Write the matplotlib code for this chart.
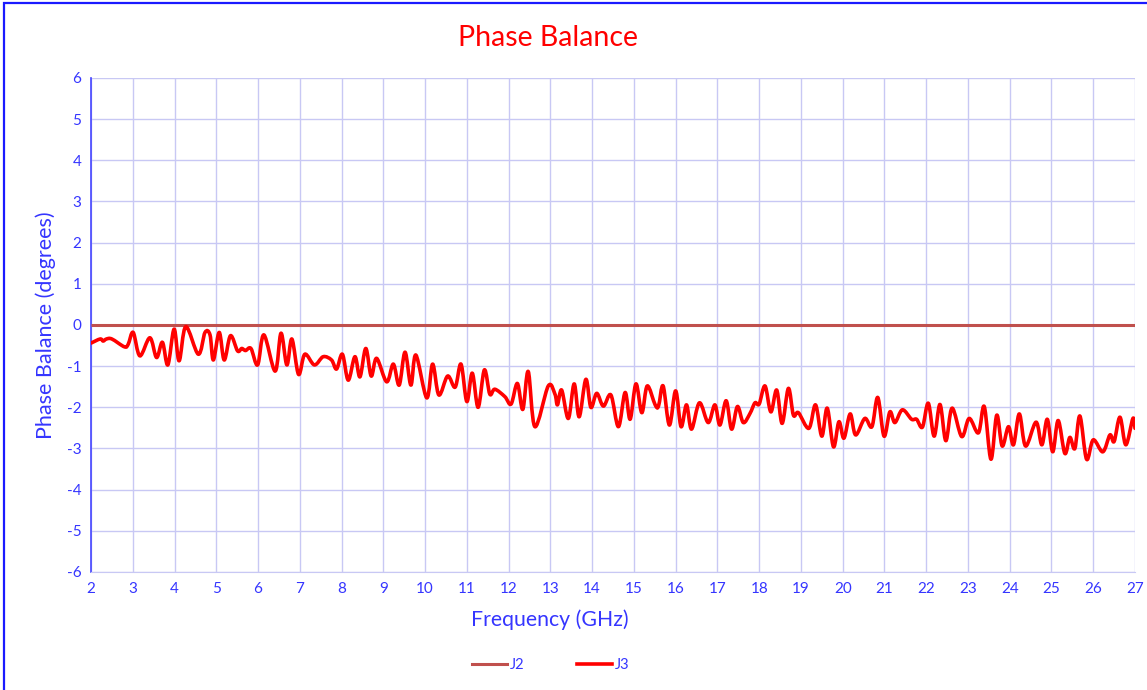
import numpy as np
import matplotlib
matplotlib.use("Agg")
import matplotlib.pyplot as plt
from matplotlib.path import Path
from matplotlib.patches import PathPatch, Rectangle
from matplotlib.lines import Line2D

plt.rcParams['font.family'] = ['Lato', 'DejaVu Sans']
plt.rcParams['axes.unicode_minus'] = False

# J3 phase balance (GHz, degrees)
freq = [2.00, 2.22, 2.29, 2.37, 2.50, 2.80, 2.89, 3.01, 3.17, 3.41, 3.57, 3.71, 3.84, 3.99,
        4.11, 4.27, 4.57, 4.73, 4.85, 4.93, 5.07, 5.19, 5.34, 5.51, 5.61, 5.70, 5.83, 5.99,
        6.14, 6.41, 6.55, 6.69, 6.81, 6.97, 7.12, 7.35, 7.56, 7.76, 7.88, 8.02, 8.16, 8.32,
        8.44, 8.58, 8.71, 8.84, 9.08, 9.24, 9.38, 9.52, 9.66, 9.78, 10.04, 10.18, 10.33,
        10.54, 10.72, 10.86, 11.00, 11.13, 11.27, 11.42, 11.55, 11.67, 11.91, 12.06, 12.21,
        12.34, 12.47, 12.63, 12.95, 13.11, 13.17, 13.27, 13.43, 13.57, 13.69, 13.85, 13.97,
        14.11, 14.27, 14.45, 14.63, 14.79, 14.91, 15.05, 15.19, 15.32, 15.51, 15.59, 15.70,
        15.85, 16.00, 16.13, 16.26, 16.38, 16.57, 16.78, 16.94, 17.06, 17.21, 17.34, 17.48,
        17.62, 17.78, 17.90, 18.00, 18.14, 18.28, 18.42, 18.55, 18.70, 18.82, 18.94, 19.19,
        19.35, 19.50, 19.63, 19.78, 19.91, 20.03, 20.18, 20.31, 20.53, 20.70, 20.84, 20.99,
        21.13, 21.25, 21.43, 21.65, 21.77, 21.91, 22.05, 22.19, 22.33, 22.47, 22.62, 22.85,
        23.03, 23.25, 23.39, 23.55, 23.69, 23.82, 23.97, 24.09, 24.23, 24.38, 24.63, 24.77,
        24.90, 25.03, 25.16, 25.32, 25.44, 25.56, 25.68, 25.84, 26.00, 26.23, 26.40, 26.50,
        26.64, 26.78, 26.95, 27.00]
j3 = [-0.44, -0.34, -0.39, -0.34, -0.34, -0.53, -0.47, -0.18, -0.75, -0.31, -0.79, -0.42, -0.97, -0.10,
      -0.87, -0.04, -0.71, -0.18, -0.24, -0.85, -0.18, -0.85, -0.26, -0.63, -0.57, -0.62, -0.57, -0.97,
      -0.24, -1.12, -0.20, -0.97, -0.34, -1.20, -0.71, -0.97, -0.77, -0.85, -1.07, -0.71, -1.34, -0.77,
      -1.26, -0.57, -1.24, -0.81, -1.38, -0.95, -1.46, -0.66, -1.46, -0.73, -1.77, -0.95, -1.70,
      -1.24, -1.51, -0.95, -1.86, -1.17, -2.00, -1.09, -1.68, -1.56, -1.74, -1.92, -1.42,
      -2.05, -1.13, -2.47, -1.48, -1.68, -1.94, -1.58, -2.27, -1.43, -2.23, -1.32, -2.00,
      -1.66, -1.97, -1.70, -2.47, -1.64, -2.29, -1.43, -2.13, -1.48, -1.94, -1.97, -1.48,
      -2.43, -1.60, -2.47, -1.94, -2.53, -1.89, -2.37, -1.94, -2.43, -1.84, -2.53, -1.98,
      -2.37, -2.15, -1.89, -1.92, -1.48, -2.11, -1.58, -2.39, -1.54, -2.19, -2.13, -2.51,
      -1.94, -2.70, -2.02, -2.96, -2.35, -2.75, -2.16, -2.67, -2.27, -2.47, -1.76, -2.70,
      -2.11, -2.37, -2.06, -2.29, -2.29, -2.48, -1.90, -2.70, -1.93, -2.81, -2.02, -2.71,
      -2.27, -2.62, -1.98, -3.26, -2.19, -2.94, -2.47, -2.91, -2.16, -2.94, -2.36, -2.91,
      -2.29, -3.08, -2.32, -3.12, -2.73, -3.00, -2.21, -3.26, -2.79, -3.08, -2.67, -2.83,
      -2.24, -2.91, -2.27, -2.51]
j2_freq = [2, 27]
j2 = [0, 0]

x_ticks = list(range(2, 28))
y_ticks = list(range(-6, 7))

blue = '#3535ff'
red = '#ff0000'
j2_color = '#c0504d'
grid_color = '#c8c8f4'

fig = plt.figure(figsize=(11.47, 6.9), dpi=100)
ax = fig.add_axes([91 / 1147, 1 - 572 / 690, 1044 / 1147, 494 / 690])

ax.plot(j2_freq, j2, color=j2_color, lw=2.2, solid_capstyle='butt', zorder=3)


# smoothed line like the spreadsheet's, built as bezier segments through the data
def smooth_path(xs, ys):
    pts = np.column_stack([xs, ys])
    n = len(pts)
    verts = [pts[0]]
    codes = [Path.MOVETO]
    for i in range(n - 1):
        p0 = pts[i - 1] if i > 0 else pts[i]
        p1 = pts[i]
        p2 = pts[i + 1]
        p3 = pts[i + 2] if i + 2 < n else pts[i + 1]
        verts += [p1 + (p2 - p0) / 6, p2 - (p3 - p1) / 6, p2]
        codes += [Path.CURVE4] * 3
    return Path(verts, codes)


ax.add_patch(PathPatch(smooth_path(freq, j3), fill=False, edgecolor=red, lw=2.6,
                       capstyle='round', joinstyle='round', zorder=4))

ax.set_xlim(2, 27)
ax.set_ylim(-6, 6)
ax.set_xticks(x_ticks)
ax.set_yticks(y_ticks)
ax.tick_params(length=0, colors=blue, labelsize=11, pad=7)
ax.grid(True, color=grid_color, lw=1)
ax.set_axisbelow(True)
for s in ['top', 'right']:
    ax.spines[s].set_visible(False)
ax.spines['left'].set_color('#4444ff')
ax.spines['left'].set_linewidth(1.2)
ax.spines['bottom'].set_color(grid_color)

fig.text(548 / 1147, 1 - 38 / 690, 'Phase Balance', color=red, fontsize=20.5,
         ha='center', va='center')
fig.text(46 / 1147, 1 - 325 / 690, 'Phase Balance (degrees)', color=blue, fontsize=15.5,
         rotation=90, ha='center', va='center')
fig.text(550 / 1147, 1 - 620 / 690, 'Frequency (GHz)', color=blue, fontsize=15.3,
         ha='center', va='center')

handles = [Line2D([], [], color=j2_color, lw=2.2), Line2D([], [], color=red, lw=2.6)]
leg = fig.legend(handles, ['J2', 'J3'], loc='center', bbox_to_anchor=(551 / 1147, 1 - 665 / 690),
                 ncol=2, frameon=False, fontsize=10.5, handlelength=2.4, columnspacing=3.6,
                 handletextpad=0.2)
for t in leg.get_texts():
    t.set_color(blue)

fig.add_artist(Rectangle((4 / 1147, -0.02), 1.05, 1 - 3 / 690 + 0.02, transform=fig.transFigure,
                         fill=False, edgecolor='#1a1aff', lw=1.6))

fig.savefig('out.png', dpi=100)
